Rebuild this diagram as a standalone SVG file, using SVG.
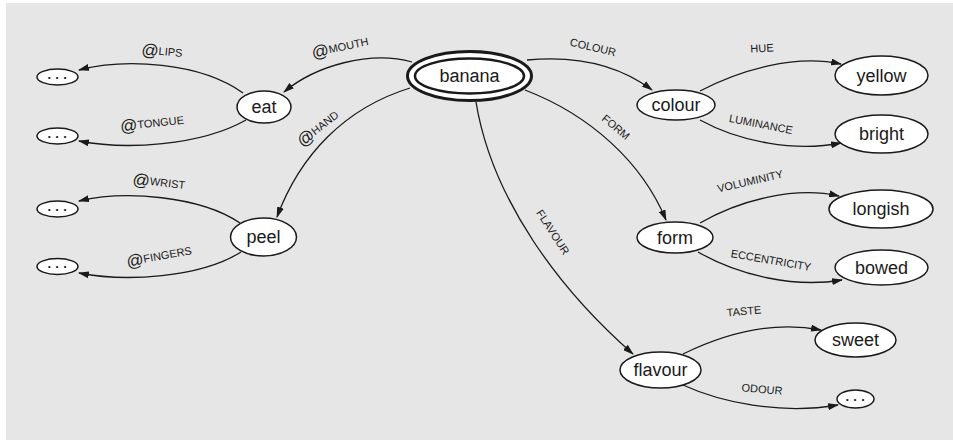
<svg xmlns="http://www.w3.org/2000/svg" width="953" height="440" viewBox="0 0 953 440">
<defs>
<marker id="arr" markerWidth="11" markerHeight="7" refX="10" refY="3.5" orient="auto" markerUnits="userSpaceOnUse">
<path d="M0,0 L11,3.5 L0,7 z" fill="#1a1a1a"/>
</marker>
<style>
.n{fill:#fff;stroke:#1a1a1a;stroke-width:1.5}
.t{font-family:"Liberation Sans",Arial,sans-serif;font-size:18px;fill:#1a1a1a;text-anchor:middle;dominant-baseline:central}
.d{font-family:"Liberation Sans",Arial,sans-serif;font-size:13px;font-weight:bold;fill:#1a1a1a;text-anchor:middle;dominant-baseline:central}
.e{fill:none;stroke:#1a1a1a;stroke-width:1.3;marker-end:url(#arr)}
.l{font-family:"Liberation Sans",Arial,sans-serif;font-size:11px;fill:#1a1a1a;text-anchor:middle;dominant-baseline:central}
.at{font-size:17px}
</style>
</defs>
<rect x="6" y="3" width="947" height="437" fill="#e6e6e6"/>
<g id="connectors">
<path class="e" d="M412,62 C370,50 315,66 284,92"/>
<path class="e" d="M410,88 C345,108 300,155 277,217"/>
<path class="e" d="M243,93 C200,62 125,58 79,70"/>
<path class="e" d="M246,120 C200,146 125,150 79,141"/>
<path class="e" d="M240,223 C200,196 125,190 79,201"/>
<path class="e" d="M241,252 C200,278 125,282 79,273"/>
<path class="e" d="M527,60 C580,55 620,66 652,90"/>
<path class="e" d="M525,90 C590,115 642,162 666,220"/>
<path class="e" d="M476,102 C492,200 560,290 633,354"/>
<path class="e" d="M700,91 C740,70 795,54 841,64"/>
<path class="e" d="M700,120 C740,142 795,152 841,143"/>
<path class="e" d="M700,223 C740,200 795,186 839,196"/>
<path class="e" d="M698,252 C740,276 795,288 842,280"/>
<path class="e" d="M683,354 C720,336 770,320 821,330"/>
<path class="e" d="M683,385 C720,402 780,415 838,405"/>
</g>
<g id="labels">
<text class="l" transform="translate(340,47) rotate(-12)"><tspan class="at">@</tspan>MOUTH</text>
<text class="l" transform="translate(318,128) rotate(-38)"><tspan class="at">@</tspan>HAND</text>
<text class="l" transform="translate(162,51) rotate(5)"><tspan class="at">@</tspan>LIPS</text>
<text class="l" transform="translate(152,123) rotate(-6)"><tspan class="at">@</tspan>TONGUE</text>
<text class="l" transform="translate(159,182) rotate(7)"><tspan class="at">@</tspan>WRIST</text>
<text class="l" transform="translate(159,256) rotate(-10)"><tspan class="at">@</tspan>FINGERS</text>
<text class="l" transform="translate(593,47) rotate(13)">COLOUR</text>
<text class="l" transform="translate(616,127) rotate(40)">FORM</text>
<text class="l" transform="translate(553,232) rotate(57)">FLAVOUR</text>
<text class="l" transform="translate(762,48) rotate(-3)">HUE</text>
<text class="l" transform="translate(761,124) rotate(11)">LUMINANCE</text>
<text class="l" transform="translate(750,181) rotate(-13)">VOLUMINITY</text>
<text class="l" transform="translate(771,260) rotate(10)">ECCENTRICITY</text>
<text class="l" transform="translate(744,311) rotate(-5)">TASTE</text>
<text class="l" transform="translate(762,389) rotate(5)">ODOUR</text>
</g>
<g id="banana">
<ellipse cx="469.5" cy="76" rx="62" ry="24.5" fill="#fff" stroke="#1a1a1a" stroke-width="3"/>
<ellipse cx="469.5" cy="76" rx="54.5" ry="17.5" fill="#fff" stroke="#1a1a1a" stroke-width="2.5"/>
<text class="t" x="469.5" y="76">banana</text>
</g>
<g id="eat"><ellipse class="n" cx="264" cy="107" rx="27" ry="16"/><text class="t" x="264" y="107">eat</text></g>
<g id="peel"><ellipse class="n" cx="263.5" cy="237" rx="33" ry="19"/><text class="t" x="263.5" y="237">peel</text></g>
<g id="lips"><ellipse class="n" cx="57.5" cy="77" rx="20.5" ry="8"/><text class="d" x="57.5" y="77">· · ·</text></g>
<g id="tongue"><ellipse class="n" cx="57.5" cy="136" rx="20.5" ry="8"/><text class="d" x="57.5" y="136">· · ·</text></g>
<g id="wrist"><ellipse class="n" cx="57.5" cy="209" rx="20.5" ry="8"/><text class="d" x="57.5" y="209">· · ·</text></g>
<g id="fingers"><ellipse class="n" cx="57.5" cy="266.5" rx="20.5" ry="8"/><text class="d" x="57.5" y="266.5">· · ·</text></g>
<g id="colour"><ellipse class="n" cx="676" cy="105" rx="39" ry="15"/><text class="t" x="676" y="105">colour</text></g>
<g id="yellow"><ellipse class="n" cx="881.5" cy="75.5" rx="46.5" ry="19.5"/><text class="t" x="881.5" y="75.5">yellow</text></g>
<g id="bright"><ellipse class="n" cx="881.5" cy="134" rx="46.5" ry="19"/><text class="t" x="881.5" y="134">bright</text></g>
<g id="form"><ellipse class="n" cx="675" cy="237.5" rx="38" ry="15.5"/><text class="t" x="675" y="237.5">form</text></g>
<g id="longish"><ellipse class="n" cx="881" cy="209" rx="52" ry="19"/><text class="t" x="881" y="209">longish</text></g>
<g id="bowed"><ellipse class="n" cx="881.5" cy="267.5" rx="46.5" ry="17.5"/><text class="t" x="881.5" y="267.5">bowed</text></g>
<g id="flavour"><ellipse class="n" cx="660.5" cy="370" rx="40.5" ry="18"/><text class="t" x="660.5" y="370">flavour</text></g>
<g id="sweet"><ellipse class="n" cx="855.5" cy="340" rx="40.5" ry="17"/><text class="t" x="855.5" y="340">sweet</text></g>
<g id="odour"><ellipse class="n" cx="855.5" cy="399" rx="18.5" ry="9"/><text class="d" x="855.5" y="399">· · ·</text></g>
</svg>
